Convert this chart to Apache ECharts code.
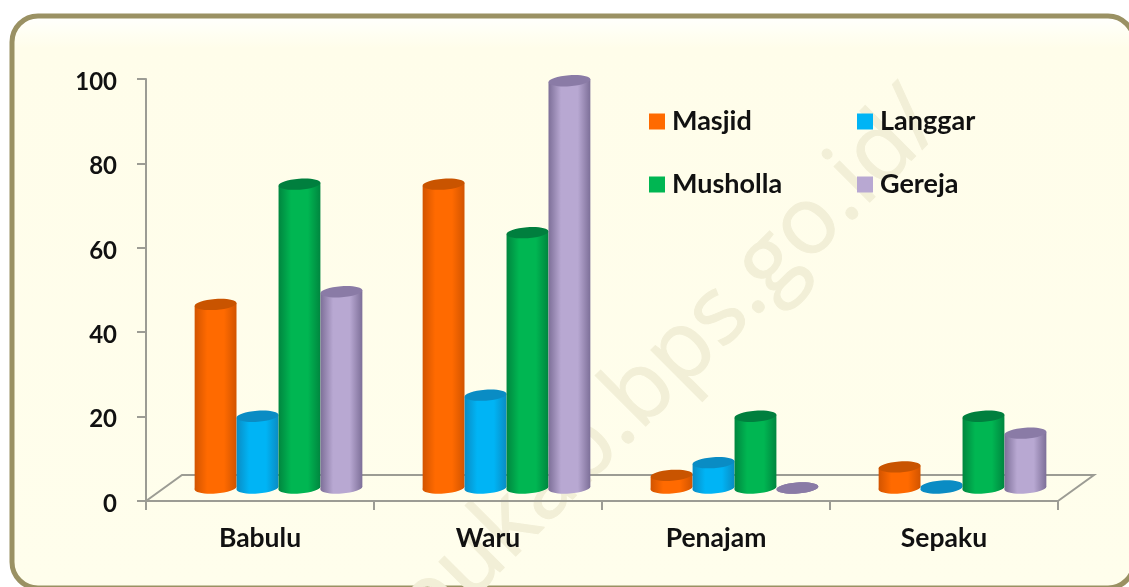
<!DOCTYPE html>
<html lang="id">
<head>
    <meta charset="UTF-8">
    <title>Jumlah tempat ibadah</title>
    <script src="https://cdn.jsdelivr.net/npm/echarts@6.0.0/dist/echarts.min.js"></script>
    <style>
        html, body { margin: 0; padding: 0; background: #fff; }
        #main { width: 1129px; height: 587px; }
    </style>
</head>
<body>
    <div id="main"></div>
    <script type="text/javascript">
        var categories = ['Babulu', 'Waru', 'Penajam', 'Sepaku'];
        var masjid = [43.5, 72, 3, 5];
        var langgar = [17, 22, 6, 0.5];
        var musholla = [72, 60.5, 17, 17];
        var gereja = [46.5, 96.5, 0, 13];
        var seriesNames = ['Masjid', 'Langgar', 'Musholla', 'Gereja'];

        // warna silinder: sisi gelap, tengah terang, tutup atas
        var palette = [
            { edge: '#d25400', mid: '#ff6a00', top: '#c95400' },
            { edge: '#0a8cc4', mid: '#00b4f5', top: '#0a8cc4' },
            { edge: '#00863f', mid: '#00b652', top: '#007f3e' },
            { edge: '#7d6f98', mid: '#b8a8d2', top: '#8a7ba6' }
        ];

        var font = 'Lato, "Open Sans", sans-serif';
        var tilt = 0.07;       // kemiringan elips
        var depthX = 36;       // kedalaman lantai 3D
        var depthY = 26;

        function cylinder(seriesIndex) {
            return function (params, api) {
                var cat = api.value(0);
                var val = api.value(1);
                var base = api.coord([cat, 0]);
                var head = api.coord([cat, val]);
                var band = api.size([1, 0])[0];
                var w = band * 0.184;
                var rx = w / 2;
                var ry = 5.5;
                var cx = base[0] + depthX / 2 + 0.5 + (seriesIndex - 1.5) * w;
                var yBase = base[1] - depthY / 2;
                var yTop = head[1] - depthY / 2;
                var c = palette[seriesIndex];
                var dx = rx * Math.cos(tilt);
                var dy = rx * Math.sin(tilt);
                var grad = new echarts.graphic.LinearGradient(0, 0, 1, 0, [
                    { offset: 0, color: c.edge },
                    { offset: 0.3, color: c.mid },
                    { offset: 0.7, color: c.mid },
                    { offset: 1, color: c.edge }
                ]);
                return {
                    type: 'group',
                    children: [
                        {
                            type: 'ellipse',
                            shape: { cx: cx, cy: yBase, rx: rx, ry: ry },
                            rotation: tilt, originX: cx, originY: yBase,
                            style: { fill: val < 1 ? c.top : grad }
                        },
                        {
                            type: 'polygon',
                            shape: { points: [[cx - dx, yTop + dy], [cx + dx, yTop - dy], [cx + dx, yBase - dy], [cx - dx, yBase + dy]] },
                            style: { fill: grad }
                        },
                        {
                            type: 'ellipse',
                            shape: { cx: cx, cy: yTop, rx: rx, ry: ry },
                            rotation: tilt, originX: cx, originY: yTop,
                            style: { fill: c.top }
                        }
                    ]
                };
            };
        }

        // lantai 3D di belakang batang
        function floor(params) {
            var g = params.coordSys;
            var b = g.y + g.height;
            return {
                type: 'polyline',
                shape: { points: [[g.x, b], [g.x + depthX, b - depthY], [g.x + g.width + depthX, b - depthY], [g.x + g.width, b]] },
                style: { fill: null, stroke: '#9c9c94', lineWidth: 2 }
            };
        }

        function makeSeries(name, values, index) {
            return {
                name: name,
                type: 'custom',
                renderItem: cylinder(index),
                encode: { x: 0, y: 1 },
                itemStyle: { color: palette[index].mid },
                z: 3 + index,
                data: values.map(function (v, i) { return [i, v]; })
            };
        }

        var legendText = { fontFamily: font, fontSize: 27, fontWeight: 'bold', color: '#111', padding: [0, 0, 0, 2] };

        var chart = echarts.init(document.getElementById('main'));

        chart.setOption({
            animation: false,
            textStyle: { fontFamily: font },
            graphic: [
                {
                    type: 'rect', z: -3,
                    shape: { x: 12, y: 16, width: 1122, height: 572, r: 26 },
                    style: {
                        fill: new echarts.graphic.LinearGradient(0, 0, 0, 1, [
                            { offset: 0, color: '#ffffff' },
                            { offset: 0.03, color: '#fffff4' },
                            { offset: 0.06, color: '#fffdea' },
                            { offset: 1, color: '#fffeec' }
                        ]),
                        stroke: '#9a9163', lineWidth: 5
                    }
                },
                {
                    type: 'text', z: -2, x: 648, y: 386, rotation: Math.PI / 4,
                    originX: 0, originY: 0,
                    style: {
                        text: 'ppukab.bps.go.id/',
                        x: 0, y: 0, align: 'center', verticalAlign: 'middle',
                        font: '94px "Open Sans", sans-serif',
                        fill: '#f2efd7',
                        stroke: '#f2efd7', lineWidth: 1
                    }
                }
            ],
            grid: { left: 146, right: 71, top: 79, bottom: 86 },
            legend: [
                {
                    left: 649, top: 108, padding: 0, orient: 'vertical', itemGap: 36,
                    itemWidth: 16, itemHeight: 16, icon: 'rect',
                    data: [seriesNames[0], seriesNames[2]],
                    textStyle: legendText
                },
                {
                    left: 857, top: 108, padding: 0, orient: 'vertical', itemGap: 36,
                    itemWidth: 16, itemHeight: 16, icon: 'rect',
                    data: [seriesNames[1], seriesNames[3]],
                    textStyle: legendText
                }
            ],
            xAxis: {
                type: 'category',
                data: categories,
                axisLine: { lineStyle: { color: '#9c9c94', width: 2 } },
                axisTick: { show: true, length: 9, lineStyle: { color: '#9c9c94', width: 2 } },
                axisLabel: { margin: 24, fontFamily: font, fontSize: 26.5, fontWeight: 'bold', color: '#111' },
                splitLine: { show: false }
            },
            yAxis: {
                type: 'value',
                min: 0,
                max: 100,
                interval: 20,
                axisLine: { show: true, lineStyle: { color: '#9c9c94', width: 2 } },
                axisTick: { show: true, length: 9, lineStyle: { color: '#9c9c94', width: 2 } },
                axisLabel: {
                    margin: 29,
                    formatter: '{v|{value}}',
                    rich: { v: { fontFamily: font, fontSize: 24, fontWeight: 'bold', color: '#111', padding: [6, 0, 0, 0] } }
                },
                splitLine: { show: false }
            },
            series: [
                { type: 'custom', renderItem: floor, silent: true, z: 2, data: [0] },
                makeSeries(seriesNames[0], masjid, 0),
                makeSeries(seriesNames[1], langgar, 1),
                makeSeries(seriesNames[2], musholla, 2),
                makeSeries(seriesNames[3], gereja, 3)
            ]
        });
    </script>
</body>
</html>
